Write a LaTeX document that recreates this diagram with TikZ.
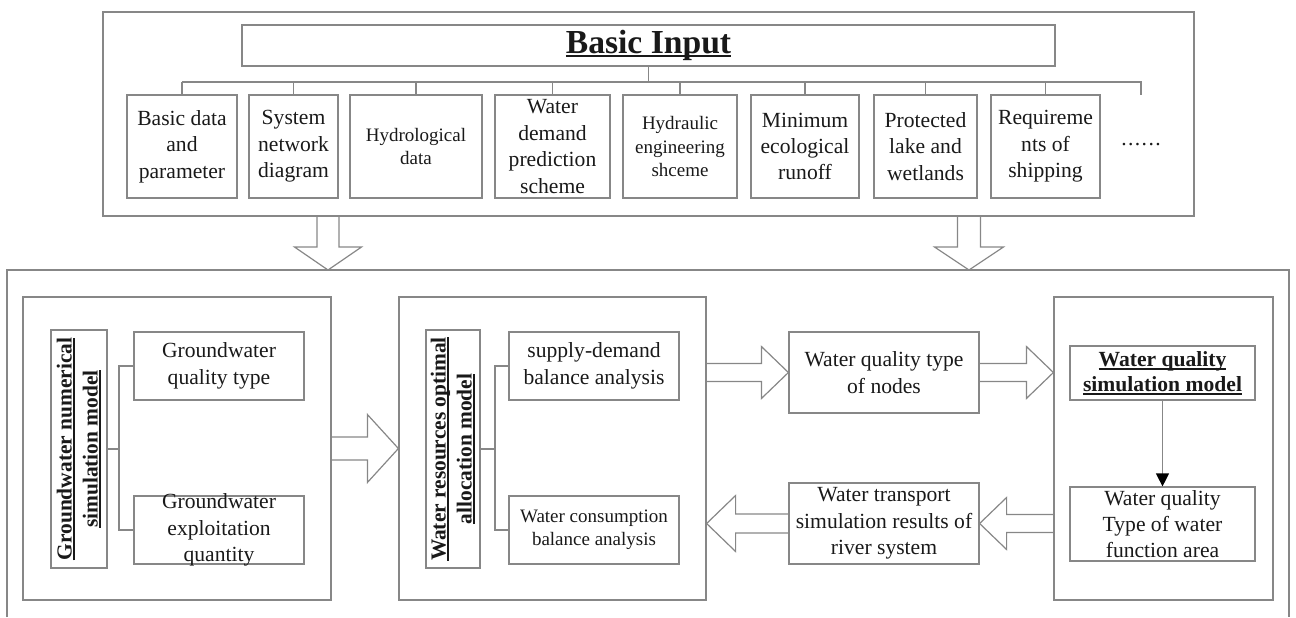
\documentclass[tikz,border=0pt]{standalone}
\usepackage{fontspec}
\setmainfont{Liberation Serif}
\newsavebox\myulbox
\newcommand\myul[1]{\sbox\myulbox{#1}\rlap{\rule[-1.7pt]{\wd\myulbox}{0.85pt}}\usebox\myulbox}
\usetikzlibrary{calc,arrows.meta}
\definecolor{lg}{RGB}{135,135,135}
\definecolor{tx}{RGB}{25,25,25}
\tikzset{
  box/.style={draw=lg, line width=0.6pt, rectangle, inner sep=0pt},
  txt/.style={align=center, inner sep=0pt, text=tx, font=\fontsize{10.8}{13.2}\selectfont},
  smalltxt/.style={txt, font=\fontsize{9.5}{11.6}\selectfont},
  boldtxt/.style={txt, font=\fontsize{10.7}{13}\selectfont\bfseries},
  titletxt/.style={txt, font=\fontsize{16.8}{20}\selectfont\bfseries},
  conn/.style={draw=lg, line width=0.6pt},
  blockarr/.style={draw=lg, line width=0.6pt, line join=miter},
  tiparr/.style={draw=lg, line width=0.6pt, -{Triangle[length=6.5pt,width=6.5pt,color=black]}},
}
% box: name, x1, y1, x2, y2 (pixel coordinates)
\newcommand\bx[5]{%
  \node[box, minimum width={(#4-#2)*0.5pt}, minimum height={(#5-#3)*0.5pt}] (#1) at ({(#2+#4)/2},{(#3+#5)/2}) {};}
% horizontal block arrow: start, tip, shaft half, head half, head length (negative = pointing left)
\newcommand\harr[5]{%
  \draw[blockarr] ($(#1)+(0,-#3)$) -- ($(#2)+({-(#5)},-#3)$) -- ($(#2)+({-(#5)},-#4)$) -- (#2)
    -- ($(#2)+({-(#5)},#4)$) -- ($(#2)+({-(#5)},#3)$) -- ($(#1)+(0,#3)$);}
% vertical block arrow (downwards): start, tip, shaft half, head half, head length
\newcommand\varr[5]{%
  \draw[blockarr] ($(#1)+(-#3,0)$) -- ($(#2)+(-#3,{-(#5)})$) -- ($(#2)+(-#4,{-(#5)})$) -- (#2)
    -- ($(#2)+(#4,{-(#5)})$) -- ($(#2)+(#3,{-(#5)})$) -- ($(#1)+(#3,0)$);}
\begin{document}
\begin{tikzpicture}[x=0.5pt,y=-0.5pt]
\useasboundingbox (0,0) rectangle (1296,617);

% ---------- top part ----------
\bx{top}{103}{12}{1194}{216}
\bx{bi}{242}{25}{1055}{66}
\node[titletxt] (bit) at (bi.center) {\myul{Basic Input}};

\bx{b1}{127}{95}{237}{198}
\bx{b2}{249}{95}{338}{198}
\bx{b3}{350}{95}{482}{198}
\bx{b4}{495}{95}{610}{198}
\bx{b5}{623}{95}{737}{198}
\bx{b6}{751}{95}{859}{198}
\bx{b7}{874}{95}{977}{198}
\bx{b8}{991}{95}{1100}{198}
\node[txt] (b1t) at (b1.center) {Basic data\\and\\parameter};
\node[txt] (b2t) at (b2.center) {System\\network\\diagram};
\node[smalltxt] (b3t) at (b3.center) {Hydrological\\data};
\node[txt] (b4t) at (b4.center) {Water\\demand\\prediction\\scheme};
\node[smalltxt] (b5t) at (b5.center) {Hydraulic\\engineering\\shceme};
\node[txt] (b6t) at (b6.center) {Minimum\\ecological\\runoff};
\node[txt] (b7t) at (b7.center) {Protected\\lake and\\wetlands};
\node[txt] (b8t) at (b8.center) {Requireme\\nts of\\shipping};
\node[txt] (dots) at (1141,145) {.\kern0.7pt.\kern0.7pt.\kern0.7pt.\kern0.7pt.\kern0.7pt.};

\coordinate (busy) at (0,82);
\coordinate (busR) at (1141,82);
\coordinate (dotsend) at (1141,95);
\draw[conn] (bi.south) -- (bi.south |- busy);
\draw[conn] (b1.north |- busy) -- (busR) -- (dotsend);
\foreach \b in {b1,b2,b3,b4,b5,b6,b7,b8}{
  \draw[conn] (\b.north |- busy) -- (\b.north);
}

% ---------- bottom frame ----------
\coordinate (fBL) at (7,617);
\coordinate (fTL) at (7,270);
\coordinate (fTR) at (1289,270);
\coordinate (fBR) at (1289,617);
\draw[conn] (fBL) -- (fTL) -- (fTR) -- (fBR);

% down arrows
\coordinate (la) at (328,0);
\coordinate (ra) at (969,0);
\varr{la |- top.south}{la |- fTL}{11}{33.5}{23}
\varr{ra |- top.south}{ra |- fTL}{11.5}{34.5}{23}

% ---------- left block ----------
\bx{gwo}{23}{297}{331}{600}
\bx{gwl}{51}{330}{107}{568}
\bx{gw1}{134}{332}{304}{400}
\bx{gw2}{134}{496}{304}{564}
\node[boldtxt, rotate=90] (gwlt) at (gwl.center) {\myul{Groundwater numerical}\\\myul{simulation model}};
\node[txt] (gw1t) at (gw1.center) {Groundwater\\quality type};
\node[txt] (gw2t) at (gw2.center) {Groundwater\\exploitation\\quantity};
\coordinate (gwk) at (119,0);
\draw[conn] (gwl.east) -- (gwk |- gwl.east);
\draw[conn] (gw1.west) -- (gwk |- gw1.west) -- (gwk |- gw2.west) -- (gw2.west);

% ---------- middle block ----------
\bx{mo}{399}{297}{706}{600}
\bx{ml}{426}{330}{480}{568}
\bx{m1}{509}{332}{679}{400}
\bx{m2}{509}{496}{679}{564}
\node[boldtxt, rotate=90] (mlt) at (ml.center) {\myul{Water resources optimal}\\\myul{allocation model}};
\node[txt] (m1t) at (m1.center) {supply-demand\\balance analysis};
\node[smalltxt] (m2t) at (m2.center) {Water consumption\\balance analysis};
\coordinate (mk) at (495,0);
\draw[conn] (ml.east) -- (mk |- ml.east);
\draw[conn] (m1.west) -- (mk |- m1.west) -- (mk |- m2.west) -- (m2.west);

% ---------- centre column ----------
\bx{nd}{789}{332}{979}{413}
\bx{tr}{789}{483}{979}{564}
\node[txt] (ndt) at (nd.center) {Water quality type\\of nodes};
\node[txt] (trt) at (tr.center) {Water transport\\simulation results of\\river system};

% ---------- right block ----------
\bx{ro}{1054}{297}{1273}{600}
\bx{wq}{1070}{346}{1255}{400}
\bx{wt}{1070}{487}{1255}{561}
\node[boldtxt, font=\fontsize{10.8}{12.6}\selectfont\bfseries] (wqt) at (wq.center) {\myul{Water quality}\\\myul{simulation model}};
\node[txt] (wtt) at (wt.center) {Water quality\\Type of water\\function area};
\draw[tiparr] (wq.south) -- (wt.north);

% ---------- block arrows between blocks ----------
\coordinate (a1s) at (gwo.east);
\coordinate (a1t) at (mo.west |- gwo.east);
\harr{a1s}{a1t}{11.5}{34}{31}
\coordinate (a2s) at (mo.east |- nd.west);
\harr{a2s}{nd.west}{9}{26}{27}
\coordinate (a3t) at (ro.west |- nd.east);
\harr{nd.east}{a3t}{9}{26}{27}
\coordinate (a4s) at (ro.west |- tr.east);
\harr{a4s}{tr.east}{9}{26}{-27}
\coordinate (a5t) at (mo.east |- tr.west);
\harr{tr.west}{a5t}{9.5}{28}{-29}
\end{tikzpicture}
\end{document}
